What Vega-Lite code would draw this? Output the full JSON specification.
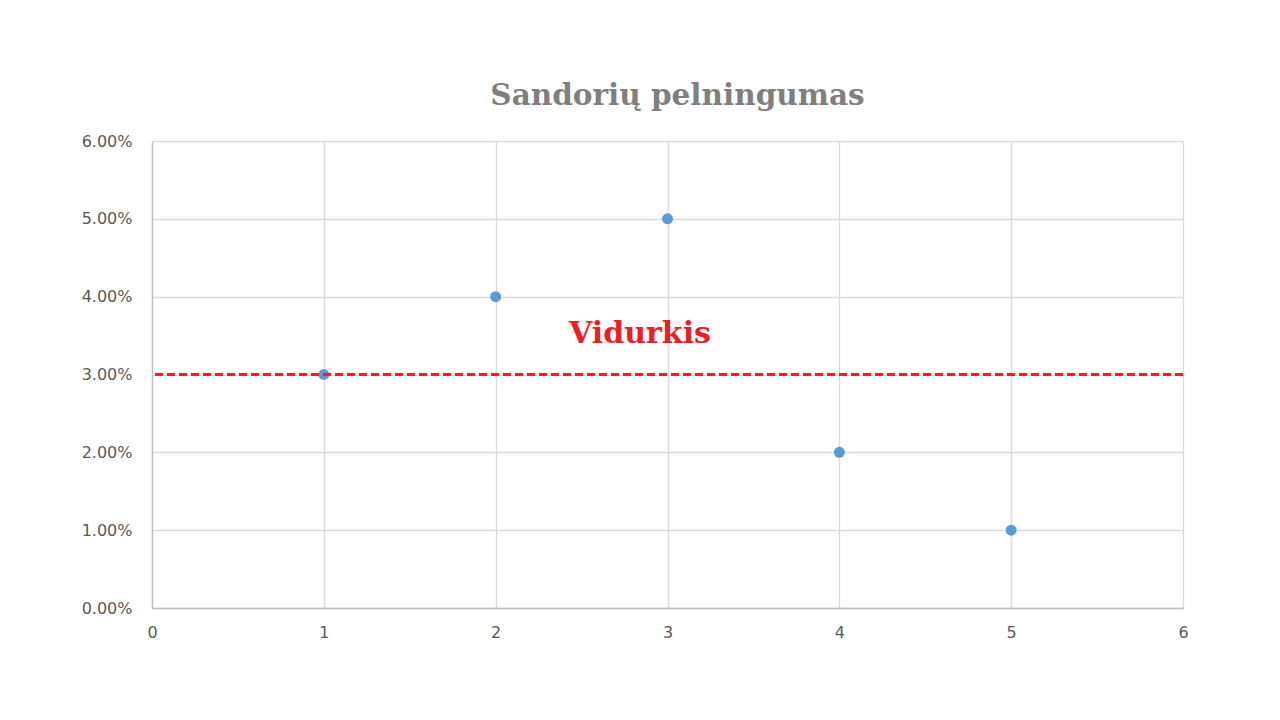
{
  "$schema": "https://vega.github.io/schema/vega-lite/v6.json",
  "autosize": {"type": "none"},
  "width": 1031,
  "height": 467,
  "padding": {"left": 152, "top": 141, "right": 97, "bottom": 112},
  "background": "white",
  "title": {
    "text": "Sandorių pelningumas",
    "font": "DejaVu Serif",
    "fontSize": 29.5,
    "fontWeight": "bold",
    "color": "#7f7f7f",
    "anchor": "middle",
    "offset": 22,
    "dx": 10
  },
  "config": {
    "view": {"stroke": null},
    "axis": {
      "labelFont": "DejaVu Sans",
      "labelFontSize": 16,
      "labelColor": "#595959",
      "labelFlush": false,
      "gridColor": "#d9d9d9",
      "gridWidth": 1.3,
      "domainColor": "#bfbfbf",
      "domainWidth": 1.3,
      "ticks": false,
      "title": null
    }
  },
  "datasets": {
    "points": [
      {"x": 1, "y": 0.03},
      {"x": 2, "y": 0.04},
      {"x": 3, "y": 0.05},
      {"x": 4, "y": 0.02},
      {"x": 5, "y": 0.01}
    ],
    "avg": [{"y": 0.03}],
    "note": [{"x": 2.84, "y": 0.0352, "label": "Vidurkis"}]
  },
  "layer": [
    {
      "data": {"name": "points"},
      "mark": {"type": "point", "filled": true, "size": 120, "color": "#5b9bd5", "opacity": 1},
      "encoding": {
        "x": {"field": "x", "type": "quantitative", "scale": {"domain": [0, 6]},
              "axis": {"values": [0,1,2,3,4,5,6], "format": "d", "labelPadding": 16, "grid": true}},
        "y": {"field": "y", "type": "quantitative", "scale": {"domain": [0, 0.06]},
              "axis": {"values": [0,0.01,0.02,0.03,0.04,0.05,0.06], "format": ".2%", "labelPadding": 20, "grid": true}}
      }
    },
    {
      "data": {"name": "avg"},
      "mark": {"type": "rule", "color": "#ff1a1a", "strokeWidth": 3, "strokeDash": [8, 4]},
      "encoding": {
        "y": {"field": "y", "type": "quantitative"}
      }
    },
    {
      "data": {"name": "note"},
      "mark": {"type": "text", "font": "DejaVu Serif", "fontSize": 30, "fontWeight": "bold", "color": "#ee1c25", "align": "center", "baseline": "middle"},
      "encoding": {
        "x": {"field": "x", "type": "quantitative"},
        "y": {"field": "y", "type": "quantitative"},
        "text": {"field": "label"}
      }
    }
  ]
}
